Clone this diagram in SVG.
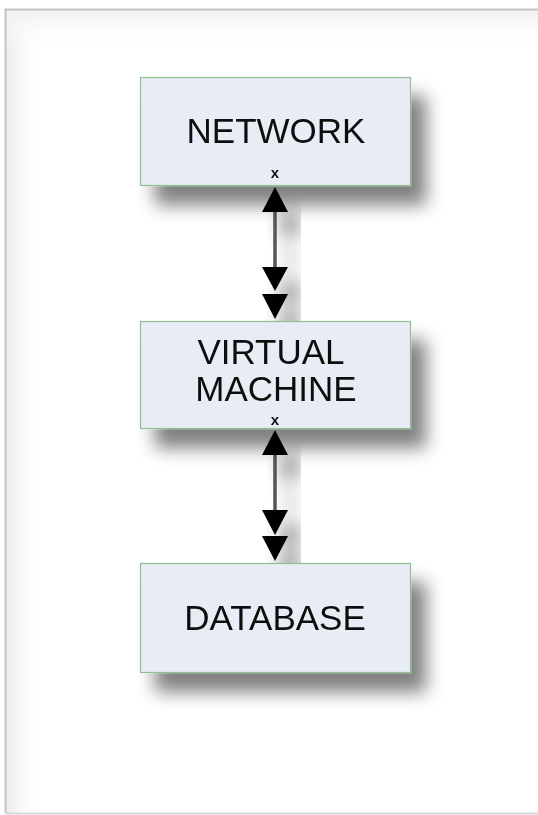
<svg xmlns="http://www.w3.org/2000/svg" width="538" height="815" viewBox="0 0 538 815">
  <defs>
    <filter id="shadow" x="-40%" y="-40%" width="190%" height="200%">
      <feGaussianBlur in="SourceAlpha" stdDeviation="9" result="b"/>
      <feOffset in="b" dx="15" dy="19" result="o"/>
      <feComponentTransfer in="o" result="s">
        <feFuncA type="linear" slope="0.5"/>
      </feComponentTransfer>
      <feMerge>
        <feMergeNode in="s"/>
        <feMergeNode in="SourceGraphic"/>
      </feMerge>
    </filter>
    <linearGradient id="leftfade" x1="0" y1="0" x2="1" y2="0">
      <stop offset="0" stop-color="#ececec"/>
      <stop offset="1" stop-color="#ffffff" stop-opacity="0"/>
    </linearGradient>
    <linearGradient id="topfade" x1="0" y1="0" x2="0" y2="1">
      <stop offset="0" stop-color="#efefef"/>
      <stop offset="1" stop-color="#ffffff" stop-opacity="0"/>
    </linearGradient>
  </defs>
  <style>
    .box { fill: #e8ecf4; stroke: #8fbf8f; stroke-width: 1.2; }
    .label { font-family: "Liberation Sans", Arial, sans-serif; font-size: 35px; fill: #111; text-anchor: middle; }
    .port { font-family: "Liberation Sans", Arial, sans-serif; font-size: 15px; font-weight: bold; fill: #111; text-anchor: middle; }
    .line { stroke: #555; stroke-width: 3.5; fill: none; }
    .tri { fill: #000; }
  </style>
  <rect x="0" y="0" width="538" height="815" fill="#fff"/>
  <rect x="6" y="9" width="40" height="804" fill="url(#leftfade)"/>
  <rect x="6" y="9" width="532" height="40" fill="url(#topfade)"/>
  <path d="M5.5,813 L5.5,9.5 L538,9.5" fill="none" stroke="#c4c4c4" stroke-width="2"/>
  <line x1="5" y1="813.5" x2="538" y2="813.5" stroke="#d8d8d8" stroke-width="2"/>

  <g id="connectors" filter="url(#shadow)">
    <g id="c1">
      <line class="line" x1="275" y1="210" x2="275" y2="268"/>
      <path class="tri" d="M275,187 L288,212 L262,212 Z"/>
      <path class="tri" d="M262,267 L288,267 L275,291 Z"/>
      <path class="tri" d="M262,294 L288,294 L275,319 Z"/>
    </g>
    <g id="c2">
      <line class="line" x1="275" y1="453" x2="275" y2="511"/>
      <path class="tri" d="M275,430 L288,455 L262,455 Z"/>
      <path class="tri" d="M262,510 L288,510 L275,535 Z"/>
      <path class="tri" d="M262,536 L288,536 L275,561 Z"/>
    </g>
  </g>

  <g id="network" filter="url(#shadow)">
    <rect class="box" x="140.5" y="77.5" width="270" height="108"/>
    <text class="label" x="276" y="143">NETWORK</text>
    <text class="port" x="275" y="178">x</text>
  </g>

  <g id="virtual-machine" filter="url(#shadow)">
    <rect class="box" x="140.5" y="321.5" width="270" height="107"/>
    <text class="label" x="271" y="364">VIRTUAL</text>
    <text class="label" x="276" y="401">MACHINE</text>
    <text class="port" x="275" y="425">x</text>
  </g>

  <g id="database" filter="url(#shadow)">
    <rect class="box" x="140.5" y="563.5" width="270" height="109"/>
    <text class="label" x="275" y="630">DATABASE</text>
  </g>
</svg>
